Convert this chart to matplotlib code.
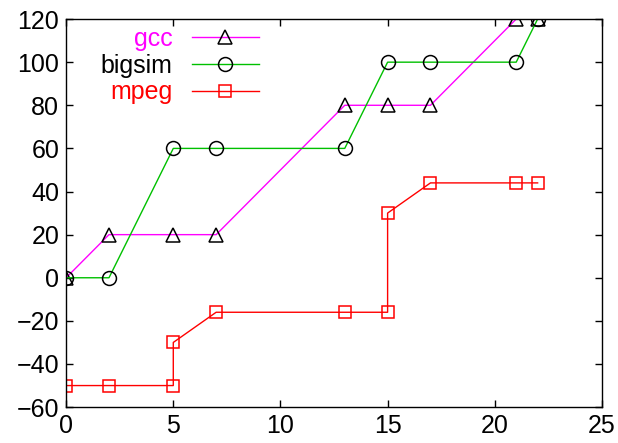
import matplotlib
matplotlib.use("Agg")
import matplotlib.pyplot as plt

# данные
gcc_x = [0, 2, 5, 7, 13, 15, 17, 21, 22]
gcc_y = [0, 20, 20, 20, 80, 80, 80, 120, 120]

bigsim_x = [0, 2, 5, 7, 13, 15, 17, 21, 22]
bigsim_y = [0, 0, 60, 60, 60, 100, 100, 100, 120]

mpeg_x = [0, 2, 5, 5, 7, 13, 15, 15, 17, 21, 22]
mpeg_y = [-50, -50, -50, -30, -16, -16, -16, 30, 44, 44, 44]

xticks = [0, 5, 10, 15, 20, 25]
yticks = [-60, -40, -20, 0, 20, 40, 60, 80, 100, 120]

plt.rcParams['font.family'] = ['Liberation Sans', 'DejaVu Sans']

fig = plt.figure(figsize=(6.18, 4.43), dpi=100)
ax = fig.add_axes([0.107, 0.081, 0.867, 0.876])

ax.plot(gcc_x, gcc_y, color="#ff00ff", linewidth=1.0, marker="^",
        markersize=9.5, markerfacecolor="none", markeredgecolor="black",
        markeredgewidth=1.1, label="gcc")
ax.plot(bigsim_x, bigsim_y, color="#00c000", linewidth=1.0, marker="o",
        markersize=10, markerfacecolor="none", markeredgecolor="black",
        markeredgewidth=1.1, label="bigsim")
ax.plot(mpeg_x, mpeg_y, color="#ff0000", linewidth=1.0, marker="s",
        markersize=9, markerfacecolor="none", markeredgecolor="#ff0000",
        markeredgewidth=1.1, label="mpeg")

ax.set_xlim(0, 25)
ax.set_ylim(-60, 120)
ax.set_xticks(xticks)
ax.set_yticks(yticks)
ax.tick_params(direction="in", length=5, width=1, labelsize=18,
               top=True, right=True, pad=5)
for sp in ax.spines.values():
    sp.set_linewidth(1.0)

leg = ax.legend(loc="upper right", bbox_to_anchor=(0.36, 0.98),
                markerfirst=False, frameon=False, fontsize=18,
                handlelength=2.7, handletextpad=0.75, labelspacing=0.11,
                borderpad=0, borderaxespad=0,
                labelcolor=["#ff00ff", "black", "#ff0000"])

fig.savefig("out.png", dpi=100)
